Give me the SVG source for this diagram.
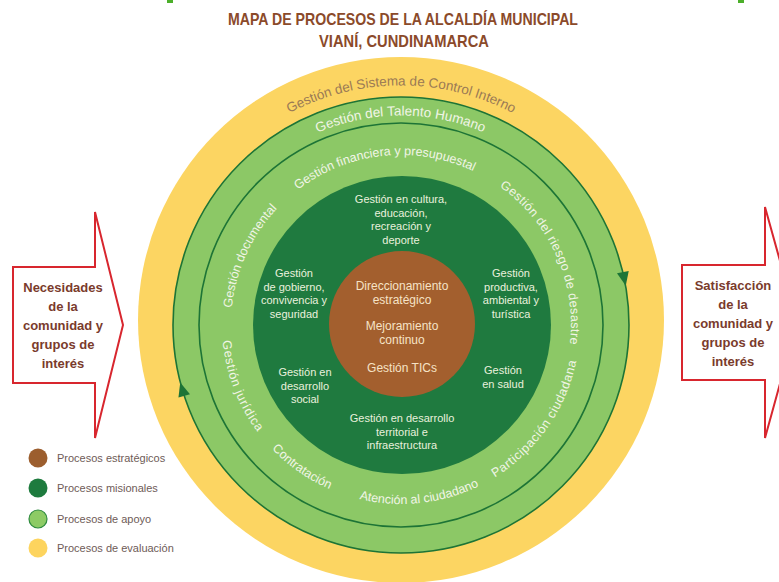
<svg xmlns="http://www.w3.org/2000/svg" xmlns:xlink="http://www.w3.org/1999/xlink" width="779" height="582" viewBox="0 0 779 582">
<style>
.title{font-family:"Liberation Sans",Arial,sans-serif;font-weight:bold;font-size:17px;fill:#8B4A2A;text-anchor:middle}
.arrowbox{fill:#ffffff;stroke:#D8262E;stroke-width:2;stroke-linejoin:miter}
.arrowtxt{font-family:"Liberation Sans",Arial,sans-serif;font-weight:bold;font-size:13px;fill:#7A3B2C;text-anchor:middle}
.ring{stroke:#1D7436;stroke-width:1.6}
.band{font-family:"Liberation Sans",Arial,sans-serif;font-size:12.5px;fill:#F1F5E6}
.yband{font-family:"Liberation Sans",Arial,sans-serif;font-size:13.5px;fill:#9A7A55}
.tband{font-family:"Liberation Sans",Arial,sans-serif;font-size:13.5px;fill:#F1F5E6}
.mis{font-family:"Liberation Sans",Arial,sans-serif;font-size:11px;fill:#EAF1DD;text-anchor:middle}
.est{font-family:"Liberation Sans",Arial,sans-serif;font-size:12px;fill:#F6E3C6;text-anchor:middle}
.leg{font-family:"Liberation Sans",Arial,sans-serif;font-size:11px;fill:#6E5B57}
.head{fill:#1D7436}
.ls4{letter-spacing:0.4px}
.ls6{letter-spacing:0.6px}
.ls8{letter-spacing:0.8px}
</style>
<defs>
<path id="pY" d="M 161.5 325 A 239.5 239.5 0 1 1 640.5 325 A 239.5 239.5 0 1 1 161.5 325"/>
<path id="pT" d="M 191.5 325 A 209.5 209.5 0 1 1 610.5 325 A 209.5 209.5 0 1 1 191.5 325"/>
<path id="pCW" d="M 231 325 A 170 170 0 1 1 571 325 A 170 170 0 1 1 231 325"/>
<path id="pCCW" d="M 222 325 A 179 179 0 1 0 580 325 A 179 179 0 1 0 222 325"/>
</defs>
<rect width="779" height="582" fill="#ffffff"/>
<rect x="167" y="0" width="6" height="3" fill="#4CAF2A"/>
<rect x="738" y="0" width="6" height="3" fill="#4CAF2A"/>

<g id="title">
<text class="title" x="403" y="25" textLength="350" lengthAdjust="spacingAndGlyphs">MAPA DE PROCESOS DE LA ALCALDÍA MUNICIPAL</text>
<text class="title" x="404" y="47" textLength="170" lengthAdjust="spacingAndGlyphs">VIANÍ, CUNDINAMARCA</text>
</g>

<g id="evaluacion">
<circle cx="401" cy="320" r="263" fill="#FCD562"/>
<text class="yband"><textPath xlink:href="#pY" href="#pY" startOffset="259.9">Gestión</textPath></text>
<text class="yband"><textPath xlink:href="#pY" href="#pY" startOffset="310.2">del</textPath></text>
<text class="yband"><textPath xlink:href="#pY" href="#pY" startOffset="331.9">Sistema</textPath></text>
<text class="yband"><textPath xlink:href="#pY" href="#pY" startOffset="384.5">de</textPath></text>
<text class="yband"><textPath xlink:href="#pY" href="#pY" startOffset="403.2">Control</textPath></text>
<text class="yband"><textPath xlink:href="#pY" href="#pY" startOffset="450.5">Interno</textPath></text>
</g>

<g id="apoyo">
<circle class="ring" cx="401" cy="325" r="228" fill="#8CC866"/>
<circle class="ring" cx="401" cy="325" r="202" fill="none"/>
<text class="tband"><textPath xlink:href="#pT" href="#pT" startOffset="243.2">Gestión</textPath></text>
<text class="tband"><textPath xlink:href="#pT" href="#pT" startOffset="293.5">del</textPath></text>
<text class="tband"><textPath xlink:href="#pT" href="#pT" startOffset="315.2">Talento</textPath></text>
<text class="tband"><textPath xlink:href="#pT" href="#pT" startOffset="362.6">Humano</textPath></text>

<text class="band"><textPath xlink:href="#pCW" href="#pCW" startOffset="17.0">Gestión</textPath></text>
<text class="band"><textPath xlink:href="#pCW" href="#pCW" startOffset="63.6">documental</textPath></text>

<text class="band"><textPath xlink:href="#pCW" href="#pCW" startOffset="156.1">Gestión</textPath></text>
<text class="band"><textPath xlink:href="#pCW" href="#pCW" startOffset="202.7">financiera</textPath></text>
<text class="band"><textPath xlink:href="#pCW" href="#pCW" startOffset="260.3">y</textPath></text>
<text class="band"><textPath xlink:href="#pCW" href="#pCW" startOffset="270.0">presupuestal</textPath></text>

<text class="band ls4"><textPath xlink:href="#pCW" href="#pCW" startOffset="372">Gestión</textPath></text>
<text class="band ls4"><textPath xlink:href="#pCW" href="#pCW" startOffset="421.8">del</textPath></text>
<text class="band ls4"><textPath xlink:href="#pCW" href="#pCW" startOffset="443.5">riesgo</textPath></text>
<text class="band ls4"><textPath xlink:href="#pCW" href="#pCW" startOffset="483.8">de</textPath></text>
<text class="band ls4"><textPath xlink:href="#pCW" href="#pCW" startOffset="502.4">desastre</textPath></text>

<text class="band ls8"><textPath xlink:href="#pCCW" href="#pCCW" startOffset="15.8">Gestión</textPath></text>
<text class="band ls8"><textPath xlink:href="#pCCW" href="#pCCW" startOffset="68.7">jurídica</textPath></text>

<text class="band"><textPath xlink:href="#pCCW" href="#pCCW" startOffset="136.7">Contratación</textPath></text>

<text class="band"><textPath xlink:href="#pCCW" href="#pCCW" startOffset="238.8">Atención</textPath></text>
<text class="band"><textPath xlink:href="#pCCW" href="#pCCW" startOffset="290.9">al</textPath></text>
<text class="band"><textPath xlink:href="#pCCW" href="#pCCW" startOffset="304.1">ciudadano</textPath></text>

<text class="band ls6"><textPath xlink:href="#pCCW" href="#pCCW" startOffset="379.6">Participación</textPath></text>
<text class="band ls6"><textPath xlink:href="#pCCW" href="#pCCW" startOffset="463.0">ciudadana</textPath></text>
</g>

<g id="connectors">
<polygon class="head" points="409,97 395,91 395,103" transform="rotate(78.1 401 325)"/>
<polygon class="head" points="409,97 395,91 395,103" transform="rotate(253.4 401 325)"/>
</g>

<g id="misionales">
<circle cx="402" cy="325" r="149" fill="#1F7A3F"/>
<text class="mis" x="401" y="203"><tspan x="401">Gestión en cultura,</tspan><tspan x="401" dy="13.5">educación,</tspan><tspan x="401" dy="13.5">recreación y</tspan><tspan x="401" dy="13.5">deporte</tspan></text>
<text class="mis" x="294" y="277"><tspan x="294">Gestión</tspan><tspan x="294" dy="13.5">de gobierno,</tspan><tspan x="294" dy="13.5">convivencia y</tspan><tspan x="294" dy="13.5">seguridad</tspan></text>
<text class="mis" x="511" y="277"><tspan x="511">Gestión</tspan><tspan x="511" dy="13.5">productiva,</tspan><tspan x="511" dy="13.5">ambiental y</tspan><tspan x="511" dy="13.5">turística</tspan></text>
<text class="mis" x="305" y="376"><tspan x="305">Gestión en</tspan><tspan x="305" dy="13.5">desarrollo</tspan><tspan x="305" dy="13.5">social</tspan></text>
<text class="mis" x="503" y="374"><tspan x="503">Gestión</tspan><tspan x="503" dy="13.5">en salud</tspan></text>
<text class="mis" x="402" y="422"><tspan x="402">Gestión en desarrollo</tspan><tspan x="402" dy="13.5">territorial e</tspan><tspan x="402" dy="13.5">infraestructura</tspan></text>
</g>

<g id="estrategicos">
<circle cx="402" cy="324" r="73" fill="#A35F2E"/>
<text class="est" x="402" y="290"><tspan x="402">Direccionamiento</tspan><tspan x="402" dy="13.5">estratégico</tspan></text>
<text class="est" x="402" y="330"><tspan x="402">Mejoramiento</tspan><tspan x="402" dy="13.5">continuo</tspan></text>
<text class="est" x="402" y="372">Gestión TICs</text>
</g>

<g id="entrada">
<polygon class="arrowbox" points="13,267 95,267 95,212 123,325 95,438 95,383 13,383"/>
<text class="arrowtxt" x="63" y="292"><tspan x="63">Necesidades</tspan><tspan x="63" dy="19">de la</tspan><tspan x="63" dy="19">comunidad y</tspan><tspan x="63" dy="19">grupos de</tspan><tspan x="63" dy="19">interés</tspan></text>
</g>

<g id="salida">
<polygon class="arrowbox" points="682,265 765,265 765,207 797,322 765,438 765,380 682,380"/>
<text class="arrowtxt" x="733" y="290"><tspan x="733">Satisfacción</tspan><tspan x="733" dy="19">de la</tspan><tspan x="733" dy="19">comunidad y</tspan><tspan x="733" dy="19">grupos de</tspan><tspan x="733" dy="19">interés</tspan></text>
</g>

<g id="leyenda">
<circle cx="38" cy="458" r="9.5" fill="#9C5E2E"/>
<text class="leg" x="57" y="462">Procesos estratégicos</text>
<circle cx="38" cy="488" r="9.5" fill="#1E7B3E"/>
<text class="leg" x="57" y="492">Procesos misionales</text>
<circle cx="38" cy="519" r="9" fill="#8DCB65" stroke="#2E8B3E" stroke-width="1.2"/>
<text class="leg" x="57" y="523">Procesos de apoyo</text>
<circle cx="38" cy="548" r="9.5" fill="#FDD45E"/>
<text class="leg" x="57" y="552">Procesos de evaluación</text>
</g>
</svg>
